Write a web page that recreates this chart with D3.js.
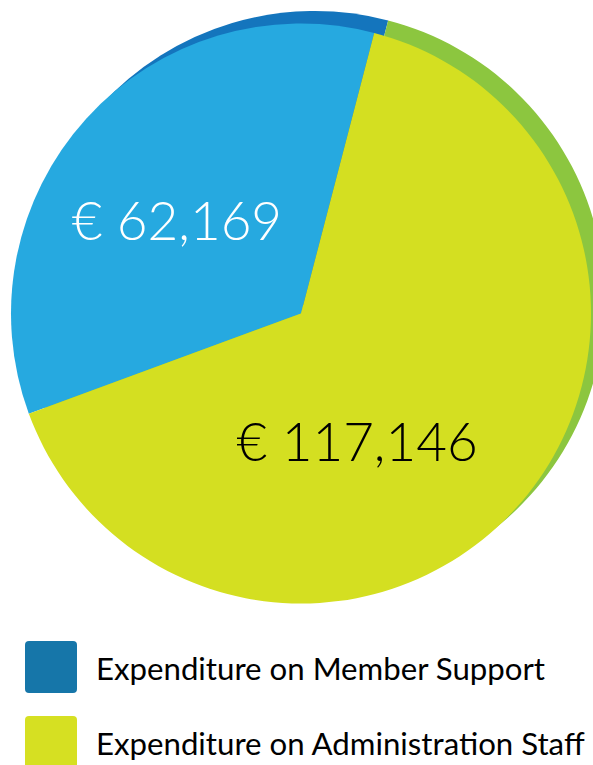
<!DOCTYPE html>
<html>
<head>
<meta charset="utf-8">
<script src="https://cdn.jsdelivr.net/npm/d3@7"></script>
<style>
  html, body { margin: 0; padding: 0; background: #fff; }
  svg { display: block; font-family: Lato, "Open Sans", sans-serif; }
</style>
</head>
<body>
<div id="chart"></div>
<script>
// Expenditure split, euro
const categories = ["Expenditure on Member Support", "Expenditure on Administration Staff"];
const values = [62169, 117146];
const labels = ["€ 62,169", "€ 117,146"];

const frontColors = ["#26a9e0", "#d4df21"];
const backColors = ["#1475bd", "#8cc63f"];
const legendColors = ["#1676a9", "#d6e022"];

const width = 593;
const height = 765;

const drawPie = function (selector) {
  const svg = d3.select(selector).append("svg")
    .attr("width", width)
    .attr("height", height);

  const pie = d3.pie()
    .sort(null)
    .startAngle(-110.2 * Math.PI / 180)
    .endAngle(249.8 * Math.PI / 180);

  const arcs = pie(values);
  const radius = 290;
  const arc = d3.arc().innerRadius(0).outerRadius(radius);

  // back layer, shifted up-right, gives the thin darker rim
  svg.append("g")
    .attr("transform", "translate(315,301)")
    .selectAll("path")
    .data(arcs)
    .join("path")
    .attr("fill", (d, i) => backColors[i])
    .attr("d", arc);

  const front = svg.append("g")
    .attr("transform", "translate(301,313.5)");

  front.selectAll("path")
    .data(arcs)
    .join("path")
    .attr("fill", (d, i) => frontColors[i])
    .attr("d", arc);

  // value labels
  const labelArc = d3.arc().innerRadius(150).outerRadius(150);
  const nudge = [[-13, 9], [-55, 28]];
  front.selectAll("text")
    .data(arcs)
    .join("text")
    .attr("transform", (d, i) => {
      const c = labelArc.centroid(d);
      return `translate(${c[0] + nudge[i][0]},${c[1] + nudge[i][1]})`;
    })
    .attr("text-anchor", "middle")
    .attr("dy", "0.35em")
    .attr("font-size", 53)
    .attr("font-weight", 300)
    .attr("fill", (d, i) => i === 0 ? "#fff" : "#000")
    .text((d, i) => labels[i]);

  // legend
  const legend = svg.append("g")
    .selectAll("g")
    .data(categories)
    .join("g")
    .attr("transform", (d, i) => `translate(25,${641 + i * 75})`);

  legend.append("rect")
    .attr("width", 52)
    .attr("height", 52)
    .attr("rx", 4)
    .attr("fill", (d, i) => legendColors[i]);

  legend.append("text")
    .attr("x", 71)
    .attr("y", 39)
    .attr("font-size", 31.2)
    .attr("fill", "#000")
    .text(d => d);
};

drawPie("#chart");
</script>
</body>
</html>
